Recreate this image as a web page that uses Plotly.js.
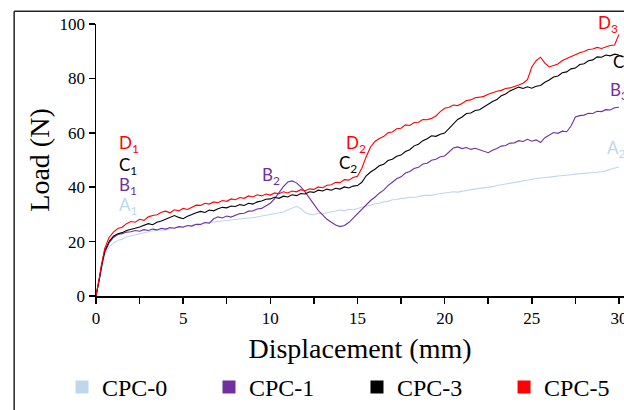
<!DOCTYPE html>
<html>
<head>
<meta charset="utf-8">
<script src="https://cdn.plot.ly/plotly-3.0.1.min.js"></script>
<style>
  html, body { margin: 0; padding: 0; background: #fff; }
  #chart { width: 624px; height: 410px; }
</style>
</head>
<body>
<div id="chart"></div>
<script>
// Displacement (mm)
const displacement = [0,0.1,0.2,0.3,0.4,0.5,0.75,
  1,1.25,1.5,1.75,2,2.25,2.5,2.75,3,3.25,3.5,3.75,4,4.25,4.5,4.75,5,5.25,5.5,5.75,
  6,6.25,6.5,6.75,7,7.25,7.5,7.75,8,8.25,8.5,8.75,9,9.25,9.5,9.75,10,10.25,10.5,10.75,
  11,11.25,11.5,11.75,12,12.25,12.5,12.75,13,13.25,13.5,13.75,14,14.25,14.5,14.75,15,15.25,15.5,15.75,
  16,16.25,16.5,16.75,17,17.25,17.5,17.75,18,18.25,18.5,18.75,19,19.25,19.5,19.75,20,20.25,20.5,20.75,
  21,21.25,21.5,21.75,22,22.25,22.5,22.75,23,23.25,23.5,23.75,24,24.25,24.5,24.75,25,25.25,25.5,25.75,
  26,26.25,26.5,26.75,27,27.25,27.5,27.75,28,28.25,28.5,28.75,29,29.25,29.5,29.75,
  30];

// Load (N) per series
const cpc0 = [0,2.5,6,9.5,12.5,15,18,
  19.5,20.4,20.9,21.7,22.1,22.6,22.9,23.4,23.6,23.9,24.1,24.3,24.2,24.8,25,25.4,25.5,25.9,26,26.4,
  26.5,26.9,27,27.1,27.4,27.6,27.8,28.1,28.2,28.3,28.6,28.7,28.8,29.1,29.2,29.6,29.8,30.1,30.5,30.9,
  31.6,32.4,33,32.1,30.6,30.1,29.9,30.4,30.1,30.6,30.9,31.2,31.6,31.3,31.9,31.7,32.2,32.5,33.1,33.4,
  33.9,34.1,34.6,34.8,35.4,35.5,35.9,36,36.3,36.2,36.6,36.9,37.1,37,37.4,37.6,37.9,38.1,38.3,38.2,
  38.6,38.8,39.1,39.3,39.6,39.8,40.1,40.2,40.6,40.9,41.3,41.5,41.9,42,42.4,42.7,43.1,43.2,43.4,43.5,
  43.7,43.9,44.1,44.2,44.4,44.6,44.8,44.9,45.1,45.2,45.4,45.5,45.7,46,46.6,46.9,
  47.4];
const cpc1 = [0,3,6.5,10,13.5,16,19.5,
  21.5,22.6,22.9,23.5,23.6,24.1,23.8,24.4,24.1,24.6,24.3,24.9,24.6,25.2,24.9,25.5,25.3,25.9,25.7,26.4,
  26.3,27,26.8,28.4,29.1,28.7,29.4,29,29.6,30.3,30.4,31.2,31.3,32,32.2,33.1,34.1,35.8,38,40.2,
  41.9,42.3,41.6,40.1,38.2,35.8,33.6,31.5,29.8,28.2,27.1,26.1,25.5,25.9,27,28.6,30.2,31.9,33.4,35.1,
  36.3,37.8,38.9,40.6,41.8,43.1,43.8,45.2,45.8,46.9,47.3,48.5,48.8,49.9,50.3,51.2,51.5,53.1,54.4,54.8,
  54.2,54.6,53.9,54.3,53.8,53.2,52.7,53.6,54.2,55.1,55.3,56.2,56.3,57.1,56.8,57.6,56.9,57.4,56.4,58.2,
  59.3,60.1,59.8,60.6,60.4,62.5,65.8,66.3,66.5,67.2,67.1,67.9,67.8,68.5,68.4,69.2,
  69.4];
const cpc3 = [0,3,6.5,10.5,14,16.5,20,
  22,22.9,23.3,24.1,24.4,24.9,25.4,25.9,26.6,26.2,27.1,27.6,28.2,28.8,29.6,28.9,28.4,29.3,30.1,30.6,
  31.1,30.7,31.6,31.3,32.1,32.6,32.4,33.1,32.9,33.6,33.3,34.1,33.8,34.6,34.9,35.6,35.7,36.3,35.9,36.7,
  36.4,37.2,36.9,37.7,37.5,38.3,38.1,38.9,38.6,39.3,38.9,39.6,39.3,40.1,39.7,40.4,40.6,41.8,44.2,45.6,
  46.6,47.9,48.4,49.8,50.3,51.4,51.8,53.1,53.8,55.2,55.8,57.1,57.8,58.9,58.7,59.5,59.9,61.6,63.2,64.9,
  65.8,67.1,67.3,68.2,68.5,69.6,70.4,71.5,72.2,73.6,74.3,75.4,76.1,76.8,76.3,76.9,76.4,77.1,77.4,78.6,
  79.4,80.5,80.9,82.1,82.4,83.5,83.8,85.1,85.4,86.5,86.8,87.9,87.8,88.6,88.3,88.9,
  88.6];
const cpc5 = [0,3,7,11,14.5,17.5,21.5,
  23.5,24.8,25.3,26.6,27.4,27.1,28.2,27.8,29.1,29.6,29.9,30.8,31.2,30.6,31.7,31.3,32.2,31.8,32.6,33.4,
  33.3,34.1,33.8,34.6,34.3,35.1,34.8,35.7,35.4,36.2,35.9,36.8,36.4,37.2,36.8,37.5,37.1,37.9,37.6,38.3,
  37.9,38.6,38.3,39.1,38.7,39.4,39.2,40.1,39.8,40.7,40.9,41.8,41.7,42.8,42.6,43.6,44,47,51.2,54.8,
  56.8,57.9,58.6,60,60.3,61.5,61.7,62.9,62.7,63.8,63.9,64.9,64.8,65.3,66.2,67.8,69,69.4,70.2,70,
  70.8,71.9,72.1,72.9,73.1,73.4,74.2,74.8,75.3,75.6,76.3,76.5,77.2,77.6,78.2,79.5,84.2,86.5,87.8,85.6,
  84.2,84.8,85.3,86.6,87.3,87.9,88.8,89.4,89.9,90.6,90.8,91.4,91,91.6,92.1,92.3,
  96.2];

const seriesNames = ['CPC-0','CPC-1','CPC-3','CPC-5'];
const seriesColors = ['#BDD7EE','#7030A0','#000000','#FF0000'];
const seriesData = [cpc0, cpc1, cpc3, cpc5];

// Point labels: [text, x, y, colorIndex]
const labels = [
  ['D<sub>1</sub>', 1.2, 55.8, 3],
  ['C<sub>1</sub>', 1.2, 47.8, 2],
  ['B<sub>1</sub>', 1.2, 40.5, 1],
  ['A<sub>1</sub>', 1.2, 33.2, 0],
  ['B<sub>2</sub>', 9.4, 44.2, 1],
  ['D<sub>2</sub>', 14.2, 55.8, 3],
  ['C<sub>2</sub>', 13.8, 48.5, 2],
  ['D<sub>3</sub>', 28.7, 100, 3],
  ['C<sub>3</sub>', 29.55, 85.8, 2],
  ['B<sub>3</sub>', 29.4, 75.2, 1],
  ['A<sub>2</sub>', 29.2, 54, 0]
];

const serif = 'Liberation Serif, Times New Roman, serif';
const legendIds = ['legend', 'legend2', 'legend3', 'legend4'];
const legendX = [-0.0644, 0.214, 0.4943, 0.7728];

const traces = [];
seriesData.forEach((d, i) => {
  traces.push({
    type: 'scatter', mode: 'lines', x: displacement, y: d,
    line: {color: seriesColors[i], width: 1.1},
    showlegend: false, hoverinfo: 'skip'
  });
});
seriesNames.forEach((n, i) => {
  traces.push({
    type: 'scatter', mode: 'markers', x: [null], y: [null], name: n,
    legend: legendIds[i],
    marker: {symbol: 'square', size: 13, color: seriesColors[i]},
    showlegend: true
  });
});

const annotations = labels.map(l => ({
  text: l[0], x: l[1], y: l[2], xref: 'x', yref: 'y',
  xanchor: 'left', yanchor: 'middle', showarrow: false,
  font: {family: 'Lato, sans-serif', size: 17, color: seriesColors[l[3]]}
}));

const layout = {
  width: 624, height: 410,
  margin: {l: 96, r: 0, t: 24, b: 112},
  paper_bgcolor: '#fff', plot_bgcolor: '#fff',
  showlegend: true,
  xaxis: {
    range: [0, 30.29], dtick: 5, tick0: 0,
    showgrid: false, zeroline: false,
    showline: true, linecolor: '#000', linewidth: 1.5,
    ticks: 'outside', ticklen: 6, tickwidth: 1.5, tickcolor: '#000',
    minor: {dtick: 2.5, ticks: 'outside', ticklen: 6, tickwidth: 1.5, tickcolor: '#000', showgrid: false},
    tickfont: {family: serif, size: 17, color: '#000'},
    ticklabeloverflow: 'allow',
    title: {text: 'Displacement (mm)', font: {family: serif, size: 28, color: '#000'}, standoff: 11},
    automargin: false
  },
  yaxis: {
    range: [0, 100], dtick: 20, tick0: 0,
    showgrid: false, zeroline: false,
    showline: true, linecolor: '#000', linewidth: 1.5,
    ticks: 'outside', ticklen: 6, tickwidth: 1.5, tickcolor: '#000',
    tickfont: {family: serif, size: 17, color: '#000'},
    title: {text: 'Load (N)', font: {family: serif, size: 28, color: '#000'}, standoff: 2},
    automargin: false
  },
  annotations: annotations,
  shapes: [
    {type: 'line', xref: 'paper', yref: 'paper', x0: -0.155, x1: -0.155, y0: -0.5, y1: 1.047, line: {color: '#222', width: 1.5}},
    {type: 'line', xref: 'paper', yref: 'paper', x0: -0.155, x1: 1.2, y0: 1.047, y1: 1.047, line: {color: '#222', width: 1.5}}
  ]
};
legendIds.forEach((id, i) => {
  layout[id] = {
    orientation: 'h', x: legendX[i], xanchor: 'left', y: -0.336, yanchor: 'middle',
    font: {family: serif, size: 24, color: '#000'},
    itemwidth: 30, bgcolor: 'rgba(0,0,0,0)'
  };
});

Plotly.newPlot('chart', traces, layout, {staticPlot: true, displayModeBar: false});
</script>
</body>
</html>
